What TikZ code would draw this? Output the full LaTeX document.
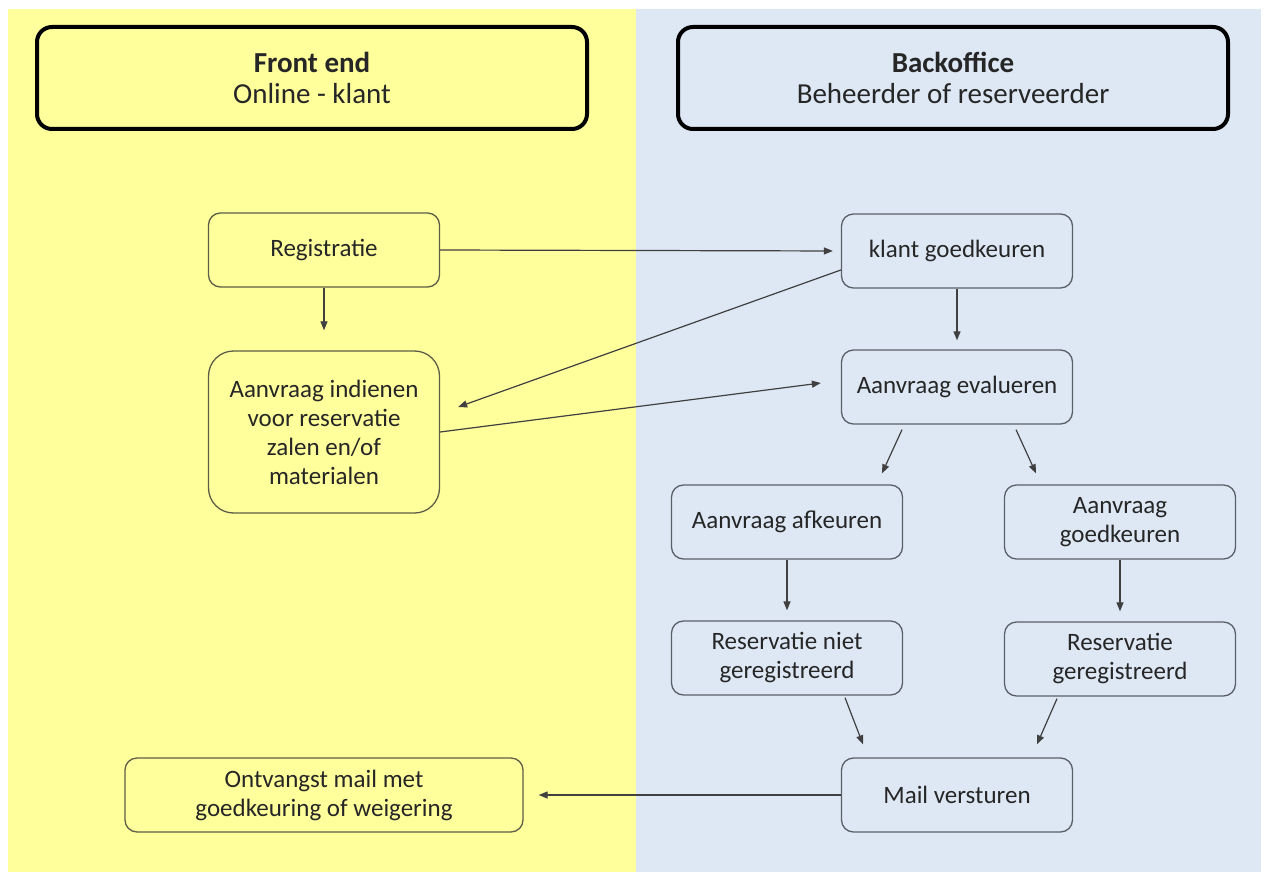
\documentclass[tikz,border=0pt]{standalone}
\usepackage{fontspec}
\setmainfont{Carlito}
\usetikzlibrary{arrows.meta,calc}
\definecolor{bgyellow}{HTML}{FFFF9C}
\definecolor{bgblue}{HTML}{DEE8F5}
\definecolor{edgey}{HTML}{5E5E48}
\definecolor{edgeb}{HTML}{5A6068}
\definecolor{txt}{HTML}{262626}
\definecolor{arr}{HTML}{404040}
\tikzset{
  hdr/.style={draw=black, line width=4pt, rounded corners=15pt, minimum width=550pt, minimum height=102pt, align=center, text=txt, inner sep=0pt, font=\fontsize{29}{31}\selectfont},
  boxy/.style={draw=edgey, line width=1.3pt, rounded corners=12pt, minimum width=231pt, minimum height=74pt, align=center, text=txt, inner sep=0pt, font=\fontsize{25}{29}\selectfont},
  boxb/.style={boxy, draw=edgeb},
  conn/.style={draw=arr, line width=1.2pt, -{Triangle[length=9pt,width=7pt]}},
}
\begin{document}
\begin{tikzpicture}[x=1pt,y=-1pt]
\useasboundingbox (0,0) rectangle (1264,872);
\fill[white] (0,0) rectangle (1264,872);
\fill[bgyellow] (8,9) rectangle (636,872);
\fill[bgblue] (636,9) rectangle (1261,872);
% headers
\node[hdr] (hfront) at (312,78) {\textbf{Front end}\\Online - klant};
\node[hdr] (hback) at (953,78) {\textbf{Backoffice}\\Beheerder of reserveerder};
% left boxes
\node[boxy] (reg) at (324,250) {Registratie};
\node[boxy, minimum height=162pt, rounded corners=25pt] (ind) at (324,432) {Aanvraag indienen\\voor reservatie\\zalen en/of\\materialen};
\node[boxy, minimum width=398pt] (ont) at (324,795) {Ontvangst mail met\\goedkeuring of weigering};
% right boxes
\node[boxb] (kg) at (957,251) {klant goedkeuren};
\node[boxb] (ev) at (957,387) {Aanvraag evalueren};
\node[boxb] (af) at (787,522) {Aanvraag afkeuren};
\node[boxb] (gk) at (1120,522) {Aanvraag\\goedkeuren};
\node[boxb] (rn) at (787,658) {Reservatie niet\\geregistreerd};
\node[boxb] (rg) at (1120,659) {Reservatie\\geregistreerd};
\node[boxb] (mv) at (957,795) {Mail versturen};
% connectors
\draw[conn, shorten >=8pt] (reg.east) -- (kg.west);
\draw[conn, shorten >=20pt] (reg.south) -- (ind.north);
\draw[conn] ($(kg.west)+(0,19)$) -- ($(ind.east)+(18,-25)$);
\draw[conn] (ind.east) -- ($(ev.west)+(-20,-4)$);
\draw[conn, shorten >=9pt] (kg.south) -- (ev.north);
\coordinate (ev1) at ($(ev.south)+(-55,5)$);
\coordinate (ev2) at ($(ev.south)+(59,5)$);
\draw[conn] (ev1) -- ($(af.north)+(95,-11)$);
\draw[conn] (ev2) -- ($(gk.north)+(-84,-11)$);
\draw[conn, shorten >=10pt] (af.south) -- (rn.north);
\draw[conn, shorten >=10pt] (gk.south) -- (rg.north);
\draw[conn] ($(rn.south)+(58,2)$) -- ($(mv.north)+(-94,-13)$);
\draw[conn] ($(rg.south)+(-63,2)$) -- ($(mv.north)+(80,-13)$);
\draw[conn, shorten >=15pt] (mv.west) -- (ont.east);
\end{tikzpicture}
\end{document}
